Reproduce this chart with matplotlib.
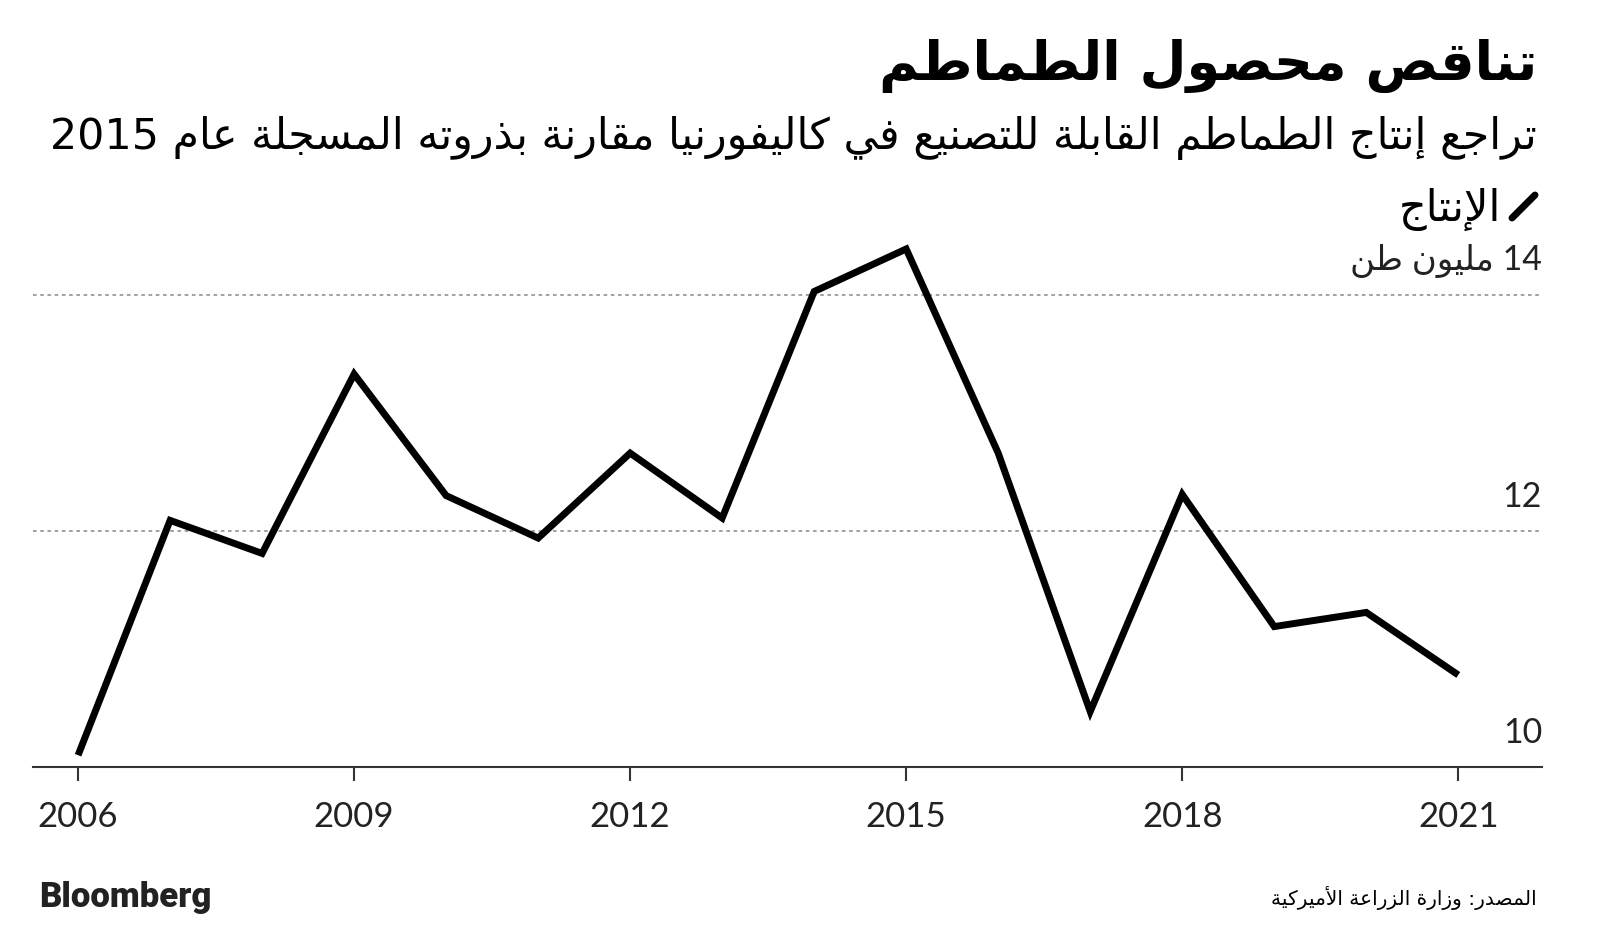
import re
import matplotlib
matplotlib.use("Agg")
import matplotlib.pyplot as plt
from matplotlib.lines import Line2D


## Data
years = [2006, 2007, 2008, 2009, 2010, 2011, 2012, 2013,
	2014, 2015, 2016, 2017, 2018, 2019, 2020, 2021]
production = [10.10, 12.09, 11.81, 13.33, 12.30, 11.94, 12.66, 12.11,
	14.03, 14.39, 12.66, 10.47, 12.31, 11.19, 11.31, 10.78]

x_ticks = [2006, 2009, 2012, 2015, 2018, 2021]
y_ticks = [10, 12, 14]
y_labels = ["10", "12", "14 مليون طن"]

title = "تناقص محصول الطماطم"
subtitle = "تراجع إنتاج الطماطم القابلة للتصنيع في كاليفورنيا مقارنة بذروته المسجلة عام 2015"
legend_label = "الإنتاج"
source = "المصدر: وزارة الزراعة الأميركية"


## Arabic shaping (matplotlib has no shaping engine)
DUAL = {'ب': 0xFE8F, 'ت': 0xFE95, 'ث': 0xFE99, 'ج': 0xFE9D, 'ح': 0xFEA1,
	'خ': 0xFEA5, 'س': 0xFEB1, 'ش': 0xFEB5, 'ص': 0xFEB9, 'ض': 0xFEBD,
	'ط': 0xFEC1, 'ظ': 0xFEC5, 'ع': 0xFEC9, 'غ': 0xFECD, 'ف': 0xFED1,
	'ق': 0xFED5, 'ك': 0xFED9, 'ل': 0xFEDD, 'م': 0xFEE1, 'ن': 0xFEE5,
	'ه': 0xFEE9, 'ي': 0xFEF1, 'ئ': 0xFE89}
RIGHT = {'ا': 0xFE8D, 'أ': 0xFE83, 'إ': 0xFE87, 'آ': 0xFE81, 'ؤ': 0xFE85,
	'ة': 0xFE93, 'د': 0xFEA9, 'ذ': 0xFEAB, 'ر': 0xFEAD, 'ز': 0xFEAF,
	'و': 0xFEED, 'ى': 0xFEEF}
LAMALEF = {'آ': 0xFEF5, 'أ': 0xFEF7, 'إ': 0xFEF9, 'ا': 0xFEFB}


def shape(s):
	out = []
	i = 0
	n = len(s)
	while i < n:
		c = s[i]
		prev_j = i > 0 and s[i-1] in DUAL
		if c == 'ل' and i+1 < n and s[i+1] in LAMALEF:
			out.append(chr(LAMALEF[s[i+1]] + (1 if prev_j else 0)))
			i += 2
			continue
		nxt = i+1 < n and (s[i+1] in DUAL or s[i+1] in RIGHT)
		if c in DUAL:
			b = DUAL[c]
			if prev_j and nxt:
				f = b + 3
			elif prev_j:
				f = b + 1
			elif nxt:
				f = b + 2
			else:
				f = b
			out.append(chr(f))
		elif c in RIGHT:
			out.append(chr(RIGHT[c] + (1 if prev_j else 0)))
		else:
			out.append(c)
		i += 1
	return ''.join(out)


def rtl(s):
	parts = re.findall(r'[0-9]+|[^0-9]+', shape(s))
	return ''.join(p if p.isdigit() else p[::-1] for p in reversed(parts))


## Plot
W, H = 1600, 929
fig = plt.figure(figsize=(16, 9.29), dpi=100)
fig.patch.set_facecolor("white")

ax = fig.add_axes([33/W, 1 - 768/H, (1542-33)/W, (768-237)/H])
ax.plot(years, production, color="black", lw=5, solid_joinstyle="miter",
	solid_capstyle="butt", zorder=3)

ax.set_xlim(2005.51, 2021.91)
ax.set_ylim(10, 14.5)

for s in ["top", "right", "left"]:
	ax.spines[s].set_visible(False)
ax.spines["bottom"].set_color("#333333")
ax.spines["bottom"].set_linewidth(1.5)

ax.set_xticks(x_ticks)
ax.set_xticklabels([str(y) for y in x_ticks], fontfamily="Lato", fontsize=25, color="#222222")
ax.tick_params(axis="x", direction="out", length=10, width=1.5, color="#333333", pad=14)

ax.set_yticks(y_ticks[1:])
ax.tick_params(axis="y", length=0, labelleft=False)
ax.yaxis.grid(True, color="#9a9a9a", lw=1.3, linestyle=(0, (2, 2)))

for v, lab in zip(y_ticks, y_labels):
	ax.annotate(rtl(lab), xy=(1.0, v), xycoords=("axes fraction", "data"),
		xytext=(0, 25), textcoords="offset points", ha="right", va="center",
		fontsize=24.5, color="#222222", family=["Lato", "DejaVu Sans"])

## Titles
fig.text(1537/W, 1 - 66/H, rtl(title), ha="right", va="center",
	fontsize=39, fontweight="bold", color="black", family="DejaVu Sans")
fig.text(1537/W, 1 - 138/H, rtl(subtitle), ha="right", va="center",
	fontsize=30.8, color="black", family="DejaVu Sans")

# legend
fig.add_artist(Line2D([1512/W, 1535/W], [1 - 219/H, 1 - 196/H], color="black",
	lw=5, solid_capstyle="round"))
fig.text(1501/W, 1 - 209/H, rtl(legend_label), ha="right", va="center",
	fontsize=31, color="black", family="DejaVu Sans")

## Footer
fig.text(39/W, 1 - 898/H, "Bloomberg", ha="left", va="center",
	fontsize=25, fontweight="black", color="#222222", family="Roboto")
fig.text(1537/W, 1 - 898/H, rtl(source), ha="right", va="center",
	fontsize=14.5, color="black", family="DejaVu Sans")

fig.savefig("out.png", dpi=100, facecolor="white")
